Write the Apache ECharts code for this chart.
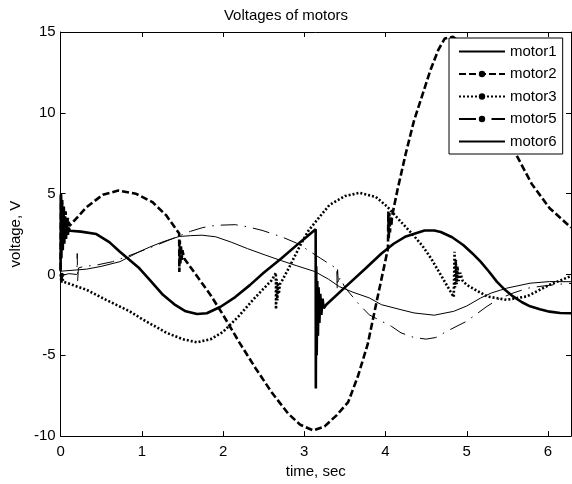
<!DOCTYPE html>
<html><head><meta charset="utf-8">
<script src="https://cdn.jsdelivr.net/npm/echarts@6/dist/echarts.min.js"></script>
<style>html,body{margin:0;padding:0;background:#fff}#c{width:572px;height:484px}</style>
</head><body><div id="c"></div><script>
const titleText = 'Voltages of motors';
const xName = 'time, sec';
const yName = 'voltage, V';
const seriesNames = ['motor1', 'motor2', 'motor3', 'motor5', 'motor6'];

const motor1 = [[0,0.2],[0.004,4.9],[0.01,1.0],[0.018,4.4],[0.027,1.5],[0.036,4.0],[0.046,1.9],[0.056,3.6],[0.067,2.2],[0.078,3.2],[0.09,2.45],[0.1,2.9],[0.115,2.7],[0.25,2.65],[0.44,2.5],[0.6,2.0],[0.73,1.4],[0.85,0.9],[0.97,0.38],[1.1,-0.35],[1.26,-1.26],[1.4,-1.85],[1.54,-2.28],[1.68,-2.45],[1.8,-2.4],[1.97,-2.0],[2.15,-1.4],[2.33,-0.66],[2.5,0.1],[2.72,1.0],[2.95,2.0],[3.14,2.8],[3.142,-7.05],[3.147,0.5],[3.153,-5.0],[3.16,-0.4],[3.168,-3.8],[3.176,-0.8],[3.186,-3.0],[3.197,-1.2],[3.21,-2.5],[3.225,-1.5],[3.24,-2.1],[3.27,-1.87],[3.5,-0.8],[3.75,0.35],[3.95,1.3],[4.1,1.9],[4.25,2.35],[4.48,2.72],[4.6,2.72],[4.68,2.63],[4.82,2.3],[4.96,1.81],[5.07,1.3],[5.17,0.79],[5.27,0.2],[5.37,-0.44],[5.47,-0.95],[5.57,-1.36],[5.68,-1.72],[5.78,-1.97],[5.9,-2.15],[6.02,-2.3],[6.15,-2.38],[6.2832,-2.4]];

const motor2 = [[0,0.3],[0.005,5.0],[0.012,1.5],[0.02,4.6],[0.03,2.0],[0.04,4.2],[0.05,2.4],[0.062,3.9],[0.075,2.7],[0.09,3.5],[0.11,3.0],[0.155,3.25],[0.32,4.17],[0.52,4.93],[0.71,5.19],[0.93,4.99],[1.13,4.48],[1.3,3.66],[1.46,2.53],[1.462,0.15],[1.468,2.1],[1.474,0.6],[1.482,1.8],[1.49,0.9],[1.5,1.5],[1.52,1.0],[1.6,0.45],[1.7,-0.25],[1.85,-1.3],[2.0,-2.5],[2.2,-4.2],[2.4,-5.8],[2.6,-7.3],[2.8,-8.6],[2.95,-9.3],[3.11,-9.65],[3.25,-9.4],[3.4,-8.7],[3.54,-7.9],[3.66,-6.3],[3.78,-4.33],[3.9,-1.46],[4.03,1.6],[4.035,3.9],[4.04,2.2],[4.047,3.8],[4.055,2.6],[4.063,3.6],[4.072,3.0],[4.08,3.6],[4.15,5.3],[4.25,7.5],[4.35,9.5],[4.46,11.2],[4.55,12.6],[4.65,13.9],[4.73,14.6],[4.83,14.7],[5.0,14.1],[5.15,12.7],[5.3,10.9],[5.45,9.0],[5.62,7.3],[5.8,5.6],[6.02,4.1],[6.2832,2.9]];

const motor3 = [[0,0.0],[0.01,-0.5],[0.02,0.1],[0.03,-0.44],[0.32,-0.95],[0.56,-1.57],[0.85,-2.28],[1.0,-2.75],[1.3,-3.6],[1.5,-4.0],[1.68,-4.2],[1.85,-4.0],[2.0,-3.55],[2.19,-2.6],[2.4,-1.4],[2.6,-0.35],[2.65,0.1],[2.652,-2.15],[2.66,-0.3],[2.668,-1.6],[2.677,-0.5],[2.687,-1.2],[2.7,-0.6],[2.72,-0.45],[2.82,0.5],[2.95,1.8],[3.05,2.7],[3.17,3.45],[3.31,4.3],[3.5,4.85],[3.68,5.05],[3.88,4.8],[4.02,4.2],[4.2,3.2],[4.33,2.5],[4.45,1.8],[4.56,1.0],[4.7,-0.2],[4.84,-1.4],[4.85,1.4],[4.855,-0.8],[4.865,0.9],[4.875,-0.6],[4.885,0.5],[4.9,-0.4],[4.92,0.1],[4.95,-0.4],[5.0,-0.64],[5.25,-1.36],[5.49,-1.57],[5.74,-1.36],[6.02,-0.64],[6.2832,-0.1]];

const motor5 = [[0,-0.1],[0.1,0.05],[0.2,0.0],[0.205,1.3],[0.21,-0.4],[0.22,0.4],[0.28,0.49],[0.44,0.58],[0.64,0.79],[0.97,1.4],[1.2,1.85],[1.38,2.22],[1.6,2.67],[1.75,2.9],[1.91,3.04],[2.15,3.08],[2.3,2.95],[2.48,2.73],[2.72,2.33],[2.9,1.95],[3.0,1.65],[3.2,1.0],[3.37,0.45],[3.4,0.45],[3.405,-0.9],[3.41,0.3],[3.42,-0.6],[3.44,-0.2],[3.5,-0.8],[3.66,-1.77],[3.8,-2.5],[3.95,-2.89],[4.07,-3.2],[4.19,-3.61],[4.35,-3.9],[4.5,-4.0],[4.62,-3.9],[4.76,-3.5],[5.0,-2.89],[5.25,-1.97],[5.4,-1.5],[5.57,-1.15],[5.75,-0.85],[5.9,-0.74],[6.1,-0.62],[6.2832,-0.55]];

const motor6 = [[0,0.2],[0.32,0.33],[0.5,0.5],[0.73,0.79],[0.97,1.41],[1.1,1.7],[1.26,2.02],[1.46,2.35],[1.6,2.4],[1.74,2.43],[1.91,2.33],[2.1,2.0],[2.3,1.6],[2.52,1.2],[2.72,0.85],[2.9,0.55],[3.13,0.18],[3.3,-0.3],[3.43,-0.75],[3.6,-1.1],[3.8,-1.45],[3.95,-1.87],[4.19,-2.18],[4.35,-2.38],[4.6,-2.52],[4.84,-2.28],[5.0,-1.95],[5.17,-1.46],[5.3,-1.15],[5.49,-0.85],[5.78,-0.54],[6.02,-0.44],[6.2832,-0.45]];

const xTicks = {min: 0, max: 6.2832, interval: 1};
const yTicks = {min: -10, max: 15, interval: 5};

const font = 'Liberation Sans, Arial, Helvetica, sans-serif';
const chart = echarts.init(document.getElementById('c'), null, {renderer: 'canvas'});

const axisCommon = {
  axisLine: {show: true, onZero: false, lineStyle: {color: '#000', width: 1}},
  axisTick: {show: true, inside: true, length: 5, lineStyle: {color: '#000'}},
  splitLine: {show: false},
  axisLabel: {color: '#000', fontSize: 15, fontFamily: font}
};

const styles = [
  {lineStyle: {width: 2.6, type: 'solid'}, symbol: 'none'},
  {lineStyle: {width: 2.6, type: [7, 3]}, symbol: 'circle'},
  {lineStyle: {width: 2.6, type: [2, 2]}, symbol: 'circle'},
  {lineStyle: {width: 1, type: [17, 7, 1.5, 7]}, symbol: 'circle'},
  {lineStyle: {width: 1, type: 'solid'}, symbol: 'none'}
];
const datas = [motor1, motor2, motor3, motor5, motor6];

chart.setOption({
  animation: false,
  backgroundColor: '#fff',
  textStyle: {fontFamily: font},
  title: {text: titleText, left: 'center', top: 3, textStyle: {fontSize: 15, fontWeight: 'normal', color: '#000', fontFamily: font}},
  grid: {left: 57, right: 1, top: 32, bottom: 45, containLabel: false},
  legend: {
    orient: 'vertical', left: 449, top: 38,
    backgroundColor: '#fff', borderColor: '#000', borderWidth: 1, borderRadius: 0,
    padding: [6, 6, 5, 9], itemWidth: 46, itemHeight: 8, itemGap: 7.5,
    textStyle: {fontSize: 15, color: '#000', fontFamily: font},
    data: seriesNames.map((n, i) => ({name: n, itemStyle: styles[i].symbol === 'none' ? {opacity: 0} : {}}))
  },
  xAxis: [
    Object.assign({type: 'value', position: 'bottom', name: xName, nameLocation: 'middle', nameGap: 26,
      nameTextStyle: {fontSize: 15, color: '#000', fontFamily: font}}, xTicks, axisCommon,
      {axisLabel: Object.assign({}, axisCommon.axisLabel, {margin: 8})}),
    Object.assign({type: 'value', position: 'top'}, xTicks, axisCommon, {axisLabel: {show: false}})
  ],
  yAxis: [
    Object.assign({type: 'value', position: 'left', name: yName, nameLocation: 'middle', nameGap: 34,
      nameTextStyle: {fontSize: 15, color: '#000', fontFamily: font}}, yTicks, axisCommon,
      {axisLabel: Object.assign({}, axisCommon.axisLabel, {margin: 5})}),
    Object.assign({type: 'value', position: 'right'}, yTicks, axisCommon, {axisLabel: {show: false}})
  ],
  series: datas.map((d, i) => ({
    name: seriesNames[i], type: 'line', data: d, xAxisIndex: 0, yAxisIndex: 0,
    showSymbol: false, symbol: styles[i].symbol, symbolSize: 6,
    color: '#000', lineStyle: Object.assign({color: '#000'}, styles[i].lineStyle),
    itemStyle: {color: '#000'}, clip: true, z: 2
  }))
});
</script></body></html>
